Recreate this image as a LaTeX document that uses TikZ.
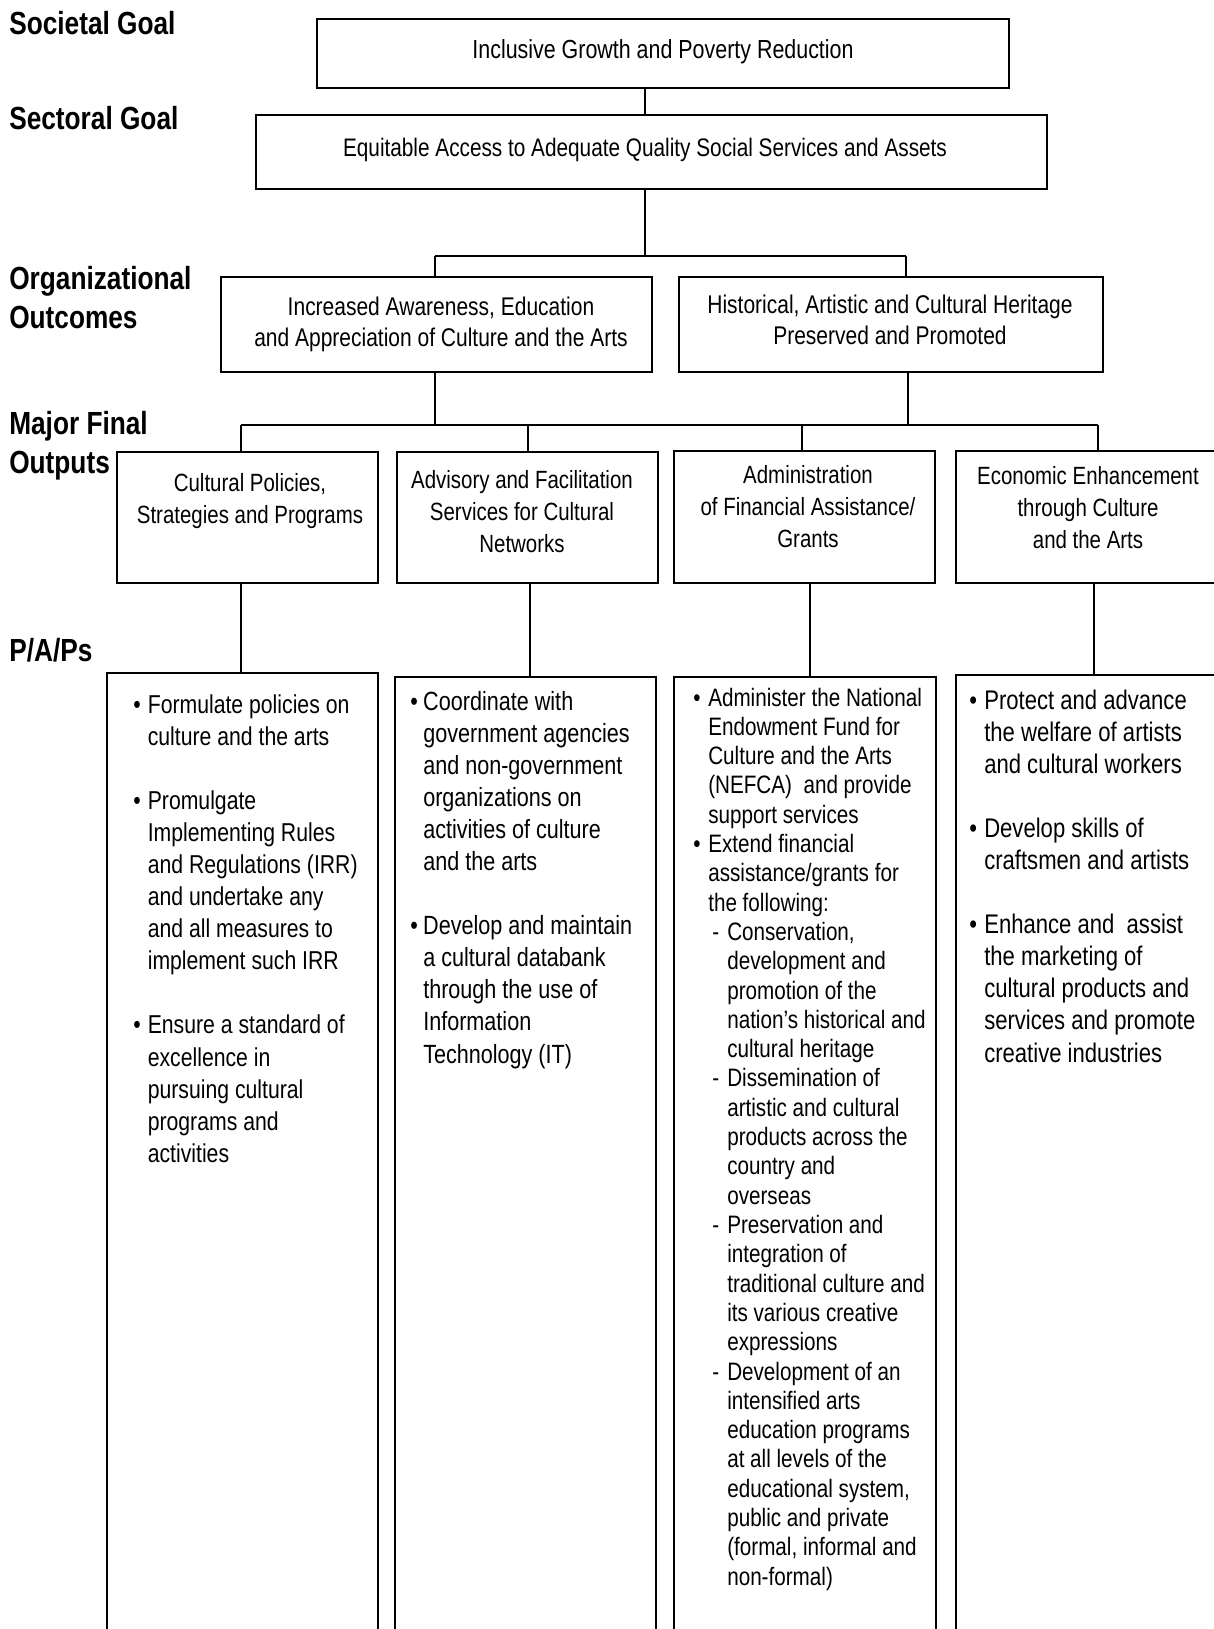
\documentclass[tikz,border=0pt]{standalone}
\usepackage{fontspec}
\setmainfont{Liberation Sans}[FakeStretch=0.82]
\usetikzlibrary{fit}
\newlength\bw
\newlength\pdx
\newlength\pdw
\newcommand\pbul{\makebox[\bw][l]{•}}
\newcommand\pind{\hspace*{\bw}}
\newcommand\pdash{\hspace*{\pdx}\makebox[\pdw][l]{-}}
\newcommand\pdind{\hspace*{\pdx}\hspace*{\pdw}}
\newcommand\mlines[1]{\begin{tabular}[t]{@{}c@{}}#1\end{tabular}}
\begin{document}
\begin{tikzpicture}[x=0.75pt,y=-0.75pt,
  frame/.style={draw=black, line width=1.1pt, inner sep=0pt},
  conn/.style={draw=black, line width=0.8pt},
  busline/.style={draw=black, line width=1.5pt},
  lvl/.style={anchor=base west, inner sep=0pt, font=\fontsize{24}{28}\selectfont\bfseries},
  btxt/.style={anchor=base, inner sep=0pt, font=\fontsize{18.7}{24.15}\selectfont},
  ctxt/.style={anchor=base, inner sep=0pt, font=\fontsize{19.2}{23.3}\selectfont},
  ptxt/.style={anchor=base west, inner sep=0pt, font=\fontsize{19.75}{24.07}\selectfont},
  qtxt/.style={anchor=base west, inner sep=0pt, font=\fontsize{18.9}{21.98}\selectfont}]
\useasboundingbox (0,0) rectangle (1214,1629);
\clip (0,0) rectangle (1214,1629);
\fill[white] (0,0) rectangle (1214,1629);

% level labels
\node[lvl] (Lsoc) at (9,34) {Societal Goal};
\node[lvl] (Lsec) at (9,129) {Sectoral Goal};
\node[lvl] (Lorg) at (9,289) {Organizational};
\node[lvl] (Lorg2) at (9,328) {Outcomes};
\node[lvl] (Lmfo) at (9,434) {Major Final};
\node[lvl] (Lmfo2) at (9,473) {Outputs};
\node[lvl] (Lpap) at (9,661) {P/A/Ps};

% box corners
\coordinate (Anw) at (317,19);  \coordinate (Ase) at (1009,88);
\coordinate (Bnw) at (256,115); \coordinate (Bse) at (1047,189);
\coordinate (Cnw) at (221,277); \coordinate (Cse) at (652,372);
\coordinate (Dnw) at (679,277); \coordinate (Dse) at (1103,372);
\coordinate (E1nw) at (117,452); \coordinate (E1se) at (378,583);
\coordinate (E2nw) at (397,452); \coordinate (E2se) at (658,583);
\coordinate (E3nw) at (674,451); \coordinate (E3se) at (935,583);
\coordinate (E4nw) at (956,451); \coordinate (E4se) at (1240,583);
\coordinate (F1nw) at (107,673); \coordinate (F1se) at (378,1660);
\coordinate (F2nw) at (395,677); \coordinate (F2se) at (656,1660);
\coordinate (F3nw) at (674,677); \coordinate (F3se) at (936,1660);
\coordinate (F4nw) at (956,675); \coordinate (F4se) at (1240,1660);

\node[frame, fit=(Anw)(Ase)] (A) {};
\node[frame, fit=(Bnw)(Bse)] (B) {};
\node[frame, fit=(Cnw)(Cse)] (C) {};
\node[frame, fit=(Dnw)(Dse)] (D) {};
\node[frame, fit=(E1nw)(E1se)] (E1) {};
\node[frame, fit=(E2nw)(E2se)] (E2) {};
\node[frame, fit=(E3nw)(E3se)] (E3) {};
\node[frame, fit=(E4nw)(E4se)] (E4) {};
\node[frame, fit=(F1nw)(F1se)] (F1) {};
\node[frame, fit=(F2nw)(F2se)] (F2) {};
\node[frame, fit=(F3nw)(F3se)] (F3) {};
\node[frame, fit=(F4nw)(F4se)] (F4) {};

% box texts
\node[btxt, font=\fontsize{19.6}{24}\selectfont] (At) at (663,58) {Inclusive Growth and Poverty Reduction};
\node[btxt, font=\fontsize{19}{24}\selectfont] (Bt) at (645,156) {Equitable Access to Adequate Quality Social Services and Assets};
\node[ctxt] (Ct) at (441,315) {\mlines{Increased Awareness, Education\\and Appreciation of Culture and the Arts}};
\node[ctxt] (Dt) at (890,313) {\mlines{Historical, Artistic and Cultural Heritage\\Preserved and Promoted}};
\node[btxt] (E1t) at (250,491) {\mlines{Cultural Policies,\\Strategies and Programs}};
\node[btxt] (E2t) at (522,488) {\mlines{Advisory and Facilitation\\Services for Cultural\\Networks}};
\node[btxt] (E3t) at (808,483) {\mlines{Administration\\of Financial Assistance/\\Grants}};
\node[btxt] (E4t) at (1088,484) {\mlines{Economic Enhancement\\through Culture\\and the Arts}};

% connectors
\coordinate (j1) at (645,256);
\coordinate (b1l) at (435,256);
\coordinate (b1r) at (906,256);
\coordinate (k1) at (435,425);
\coordinate (k2) at (908,425);
\coordinate (m1) at (241,425);
\coordinate (m2) at (528,425);
\coordinate (m3) at (802,425);
\coordinate (m4) at (1098,425);
\coordinate (n1) at (241,0);
\coordinate (n2) at (530,0);
\coordinate (n3) at (810,0);
\coordinate (n4) at (1094,0);

\draw[conn] (A.south -| j1) -- (B.north -| j1);
\draw[conn] (B.south -| j1) -- (j1);
\draw[busline] (b1l) -- (b1r);
\draw[conn] (b1l) -- (C.north -| b1l);
\draw[conn] (b1r) -- (D.north -| b1r);
\draw[conn] (C.south -| k1) -- (k1);
\draw[busline] (D.south -| k2) -- (k2);
\draw[conn] (m1) -- (m4);
\draw[conn] (m1) -- (E1.north -| m1);
\draw[conn] (m2) -- (E2.north -| m2);
\draw[conn] (m3) -- (E3.north -| m3);
\draw[conn] (m4) -- (E4.north -| m4);
\draw[conn] (E1.south -| n1) -- (F1.north -| n1);
\draw[conn] (E2.south -| n2) -- (F2.north -| n2);
\draw[conn] (E3.south -| n3) -- (F3.north -| n3);
\draw[conn] (E4.south -| n4) -- (F4.north -| n4);

% P/A/P texts
\node[ptxt, font=\fontsize{19.4}{24.07}\selectfont] (F1t) at (133,713) {\setlength\bw{10.9pt}\begin{tabular}[t]{@{}l@{}}
\pbul Formulate policies on\\
\pind culture and the arts\\
\\
\pbul Promulgate\\
\pind Implementing Rules\\
\pind and Regulations (IRR)\\
\pind and undertake any\\
\pind and all measures to\\
\pind implement such IRR\\
\\
\pbul Ensure a standard of\\
\pind excellence in\\
\pind pursuing cultural\\
\pind programs and\\
\pind activities
\end{tabular}};

\node[ptxt] (F2t) at (410,710) {\setlength\bw{9.75pt}\begin{tabular}[t]{@{}l@{}}
\pbul Coordinate with\\
\pind government agencies\\
\pind and non-government\\
\pind organizations on\\
\pind activities of culture\\
\pind and the arts\\
\\
\pbul Develop and maintain\\
\pind a cultural databank\\
\pind through the use of\\
\pind Information\\
\pind Technology (IT)
\end{tabular}};

\node[qtxt] (F3t) at (693,706) {\setlength\bw{11.25pt}\setlength\pdx{14.25pt}\setlength\pdw{11.25pt}\begin{tabular}[t]{@{}l@{}}
\pbul Administer the National\\
\pind Endowment Fund for\\
\pind Culture and the Arts\\
\pind (NEFCA)\ \ and provide\\
\pind support services\\
\pbul Extend financial\\
\pind assistance/grants for\\
\pind the following:\\
\pdash Conservation,\\
\pdind development and\\
\pdind promotion of the\\
\pdind nation’s historical and\\
\pdind cultural heritage\\
\pdash Dissemination of\\
\pdind artistic and cultural\\
\pdind products across the\\
\pdind country and\\
\pdind overseas\\
\pdash Preservation and\\
\pdind integration of\\
\pdind traditional culture and\\
\pdind its various creative\\
\pdind expressions\\
\pdash Development of an\\
\pdind intensified arts\\
\pdind education programs\\
\pdind at all levels of the\\
\pdind educational system,\\
\pdind public and private\\
\pdind (formal, informal and\\
\pdind non-formal)
\end{tabular}};

\node[ptxt, font=\fontsize{20.2}{24.07}\selectfont] (F4t) at (969,709) {\setlength\bw{11.25pt}\begin{tabular}[t]{@{}l@{}}
\pbul Protect and advance\\
\pind the welfare of artists\\
\pind and cultural workers\\
\\
\pbul Develop skills of\\
\pind craftsmen and artists\\
\\
\pbul Enhance and\ \ assist\\
\pind the marketing of\\
\pind cultural products and\\
\pind services and promote\\
\pind creative industries
\end{tabular}};
\end{tikzpicture}
\end{document}
